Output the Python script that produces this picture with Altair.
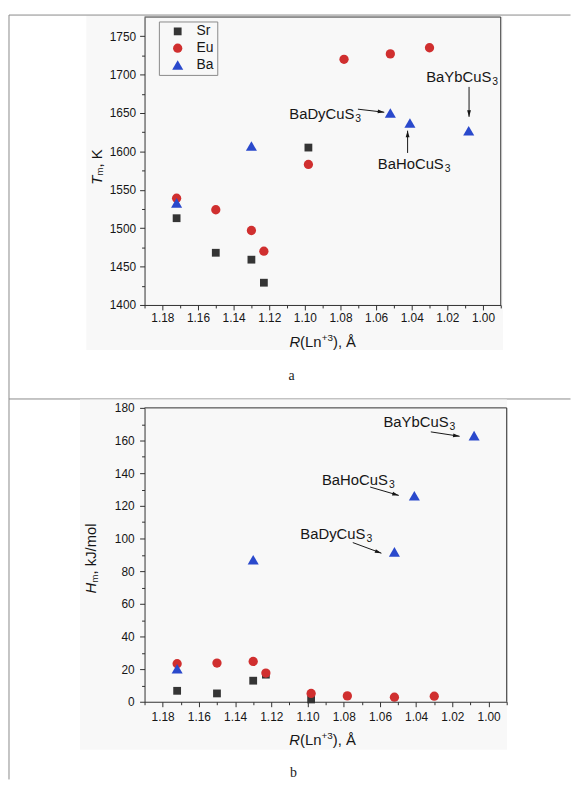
import altair as alt
import pandas as pd

# ---------------- data ----------------
SERIES = ["Sr", "Eu", "Ba"]
COLORS = ["#353535", "#d02f2f", "#2a49cc"]
SHAPES = ["square", "circle", "triangle-up"]
SIZES = [62, 88, 125]

r_sr = [1.172, 1.150, 1.130, 1.123, 1.098]
r_eu = [1.172, 1.150, 1.130, 1.123, 1.098, 1.078, 1.052, 1.030]
r_ba = [1.172, 1.130, 1.052, 1.041, 1.008]

tm_sr = [1513, 1468, 1459, 1429, 1605]
tm_eu = [1539, 1524, 1497, 1470, 1583, 1720, 1727, 1735]
tm_ba = [1533, 1607, 1650, 1637, 1627]

hm_sr = [6.7, 5.1, 12.9, 16.6, 1.4]
hm_eu = [23.3, 23.7, 24.7, 17.6, 5.1, 3.6, 2.8, 3.4]
hm_ba = [20.2, 87.0, 91.8, 126.2, 163.0]

x_domain = [1.19, 0.99]
x_major = [1.18, 1.16, 1.14, 1.12, 1.10, 1.08, 1.06, 1.04, 1.02, 1.00]
x_minor = [1.19, 1.17, 1.15, 1.13, 1.11, 1.09, 1.07, 1.05, 1.03, 1.01, 0.99]

tm_domain = [1400, 1775]
tm_major = [1400, 1450, 1500, 1550, 1600, 1650, 1700, 1750]
tm_minor = [1425, 1475, 1525, 1575, 1625, 1675, 1725]

hm_domain = [0, 180]
hm_major = [0, 20, 40, 60, 80, 100, 120, 140, 160, 180]
hm_minor = [10, 30, 50, 70, 90, 110, 130, 150, 170]

ann_names = ["BaDyCuS", "BaHoCuS", "BaYbCuS"]
ann_sub = ["3", "3", "3"]

a_lab_x = [1.0722, 1.0220, 0.9953]
a_lab_y = [1649, 1584, 1697]
a_arr_x1 = [1.0702, 1.0423, 1.0078]
a_arr_y1 = [1655, 1598, 1684]
a_arr_x2 = [1.0554, 1.0423, 1.0078]
a_arr_y2 = [1651, 1627, 1645]
a_arr_ang = [97, 0, 180]

b_lab_x = [1.0680, 1.0556, 1.0221]
b_lab_y = [102.5, 135.9, 171.3]
b_arr_x1 = [1.0750, 1.0654, 1.0319]
b_arr_y1 = [97.5, 131.5, 165.3]
b_arr_x2 = [1.0592, 1.0496, 1.0160]
b_arr_y2 = [91.0, 126.4, 162.6]
b_arr_ang = [110, 106, 98]

# ---------------- styling ----------------
FONT = "Liberation Sans"
SERIF = "Liberation Serif"
INK = "#161616"
AX = "#303030"
FRAME = "#8a8a8a"
BG = "#f8f8f8"
ARROW = "M0,0L0.65,2.2L-0.65,2.2Z"
ONE = alt.InlineData(values=[{"k": 0}])


def points_frame(ys_list):
    rows = []
    for name, xs, ys in zip(SERIES, [r_sr, r_eu, r_ba], ys_list):
        for x, y in zip(xs, ys):
            rows.append({"series": name, "R": x, "v": y})
    return pd.DataFrame(rows)


def txt(text, x, y, **kw):
    return alt.Chart(ONE).mark_text(text=text, **kw).encode(x=alt.value(x), y=alt.value(y))


def rule(x, x2, y, y2, color=FRAME):
    return alt.Chart(ONE).mark_rule(color=color, strokeWidth=1).encode(
        x=alt.value(x), x2=alt.value(x2), y=alt.value(y), y2=alt.value(y2))


def panel(df, ydom, ymaj, ymin, lab_x, lab_y, ax1, ay1, ax2, ay2, aang,
          W, H, legxy, xpad, ypad, bg, frames, xtitle, ytitle, caption):
    xs = alt.Scale(domain=x_domain, nice=False, zero=False)
    ys = alt.Scale(domain=ydom, nice=False, zero=False)

    leg = alt.Legend(orient="none", legendX=legxy[0], legendY=legxy[1], title=None,
                     labelFont=FONT, labelFontSize=14, labelColor=INK,
                     strokeColor=FRAME, padding=3, symbolOffset=9, labelOffset=12,
                     rowPadding=3, symbolStrokeWidth=0)

    x_major_ax = alt.Axis(orient="bottom", values=x_major, format=".2f", title=None, grid=False,
                          tickSize=5, tickColor=AX, domainColor=AX, labelColor=INK,
                          labelFont=FONT, labelFontSize=12, labelPadding=xpad,
                          labelFlush=False, labelOverlap=False, zindex=1)
    y_major_ax = alt.Axis(orient="left", values=ymaj, format="d", title=None, grid=False,
                          tickSize=5, tickColor=AX, domainColor=AX, labelColor=INK,
                          labelFont=FONT, labelFontSize=12, labelPadding=ypad,
                          labelFlush=False, labelOverlap=False, zindex=1)
    x_minor_ax = alt.Axis(orient="bottom", values=x_minor, title=None, grid=False, labels=False,
                          domain=False, tickSize=3, tickColor=AX, zindex=1)
    y_minor_ax = alt.Axis(orient="left", values=ymin, title=None, grid=False, labels=False,
                          domain=False, tickSize=3, tickColor=AX, zindex=1)

    layers = []
    # light background behind the figure panel
    layers.append(alt.Chart(ONE).mark_rect(color=bg[4]).encode(
        x=alt.value(bg[0]), x2=alt.value(bg[1]), y=alt.value(bg[2]), y2=alt.value(bg[3])))
    for f in frames:
        layers.append(rule(*f))
    # top and right edges of the plot box
    layers.append(rule(0, W, 0, 0, color=AX))
    layers.append(rule(W, W, 0, H, color=AX))

    layers.append(alt.Chart(df).mark_point(opacity=0).encode(
        x=alt.X("R:Q", scale=xs, axis=x_minor_ax), y=alt.Y("v:Q", scale=ys, axis=y_minor_ax)))

    layers.append(alt.Chart(df).mark_point(filled=True, opacity=1, strokeWidth=0).encode(
        x=alt.X("R:Q", scale=xs, axis=x_major_ax),
        y=alt.Y("v:Q", scale=ys, axis=y_major_ax),
        color=alt.Color("series:N", scale=alt.Scale(domain=SERIES, range=COLORS), legend=leg),
        shape=alt.Shape("series:N", scale=alt.Scale(domain=SERIES, range=SHAPES), legend=leg),
        size=alt.Size("series:N", scale=alt.Scale(type="ordinal", domain=SERIES, range=SIZES),
                      legend=leg),
    ))

    ann = pd.DataFrame({"name": ann_names, "sub": ann_sub, "lx": lab_x, "ly": lab_y,
                        "x1": ax1, "y1": ay1, "x2": ax2, "y2": ay2, "ang": aang})
    layers.append(alt.Chart(ann).mark_rule(color=INK, strokeWidth=1).encode(
        x=alt.X("x1:Q", scale=xs, axis=None), y=alt.Y("y1:Q", scale=ys, axis=None),
        x2="x2:Q", y2="y2:Q"))
    layers.append(alt.Chart(ann).mark_point(shape=ARROW, filled=True, size=36, color=INK,
                                            strokeWidth=0, opacity=1).encode(
        x=alt.X("x2:Q", scale=xs, axis=None), y=alt.Y("y2:Q", scale=ys, axis=None),
        angle=alt.Angle("ang:Q", scale=None)))
    layers.append(alt.Chart(ann).mark_text(font=FONT, fontSize=15, color=INK, align="right",
                                           baseline="middle").encode(
        x=alt.X("lx:Q", scale=xs, axis=None), y=alt.Y("ly:Q", scale=ys, axis=None),
        text="name:N"))
    layers.append(alt.Chart(ann).mark_text(font=FONT, fontSize=10.5, color=INK, align="left",
                                           baseline="middle", dx=1, dy=5).encode(
        x=alt.X("lx:Q", scale=xs, axis=None), y=alt.Y("ly:Q", scale=ys, axis=None),
        text="sub:N"))

    # axis titles composed of pieces (italic symbol, sub/superscripts)
    xt0, xty = xtitle
    layers.append(txt("R", xt0, xty, font=FONT, fontSize=15, fontStyle="italic", color=INK,
                      align="left", baseline="alphabetic"))
    layers.append(txt("(Ln", xt0 + 10.8, xty, font=FONT, fontSize=15, color=INK,
                      align="left", baseline="alphabetic"))
    layers.append(txt("+3", xt0 + 32.6, xty - 6, font=FONT, fontSize=10, color=INK,
                      align="left", baseline="alphabetic"))
    layers.append(txt("), Å", xt0 + 44.0, xty, font=FONT, fontSize=15, color=INK,
                      align="left", baseline="alphabetic"))

    yx, yy, sym, rest, w0 = ytitle
    layers.append(txt(sym, yx, yy, font=FONT, fontSize=15, fontStyle="italic", color=INK,
                      align="left", baseline="middle", angle=270))
    layers.append(txt("m", yx, yy, font=FONT, fontSize=10, color=INK, align="left",
                      baseline="middle", angle=270, dx=w0, dy=4))
    layers.append(txt(rest, yx, yy, font=FONT, fontSize=15, color=INK, align="left",
                      baseline="middle", angle=270, dx=w0 + 8.3))

    layers.append(txt(caption[0], caption[1], caption[2], font=SERIF, fontSize=14,
                      color="#222222", align="center", baseline="middle"))

    return alt.layer(*layers).resolve_axis(x="independent", y="independent").properties(
        width=W, height=H)


df_a = points_frame([tm_sr, tm_eu, tm_ba])
df_b = points_frame([hm_sr, hm_eu, hm_ba])

# figure frame lines (relative to each panel's plot area)
frames_a = [(-137, 430.5, -2, -2), (-137, 430.5, 386, 386), (-137, -137, -2, 386)]
frames_b = [(-137, -137, -9, 375.5)]

chart_a = panel(df_a, tm_domain, tm_major, tm_minor, a_lab_x, a_lab_y,
                a_arr_x1, a_arr_y1, a_arr_x2, a_arr_y2, a_arr_ang,
                360, 291, (14.5, 4.5), 3, 4,
                (-58.8, 362.2, -1.5, 336.5, BG), frames_a,
                (146.4, 333.5), (-48.5, 169.5, "T", ", K", 9.2), ("a", 148.5, 362.5))
chart_b = panel(df_b, hm_domain, hm_major, hm_minor, b_lab_x, b_lab_y,
                b_arr_x1, b_arr_y1, b_arr_x2, b_arr_y2, b_arr_ang,
                366, 297, (10.5, 6.5), 5, 5.5,
                (-65.2, 366.2, -8.5, 345.5, BG), frames_b,
                (146.3, 340.5), (-53.8, 187.5, "H", ", kJ/mol", 10.8), ("b", 150.5, 369.5))

chart = alt.vconcat(chart_a, chart_b, spacing=104, bounds="flush").properties(
    padding={"top": 2, "left": 0, "right": 0, "bottom": 0}
).configure_view(stroke=None, fill=BG).configure(background="white")

chart.save("out.html", embed_options={"renderer": "svg", "actions": False})
